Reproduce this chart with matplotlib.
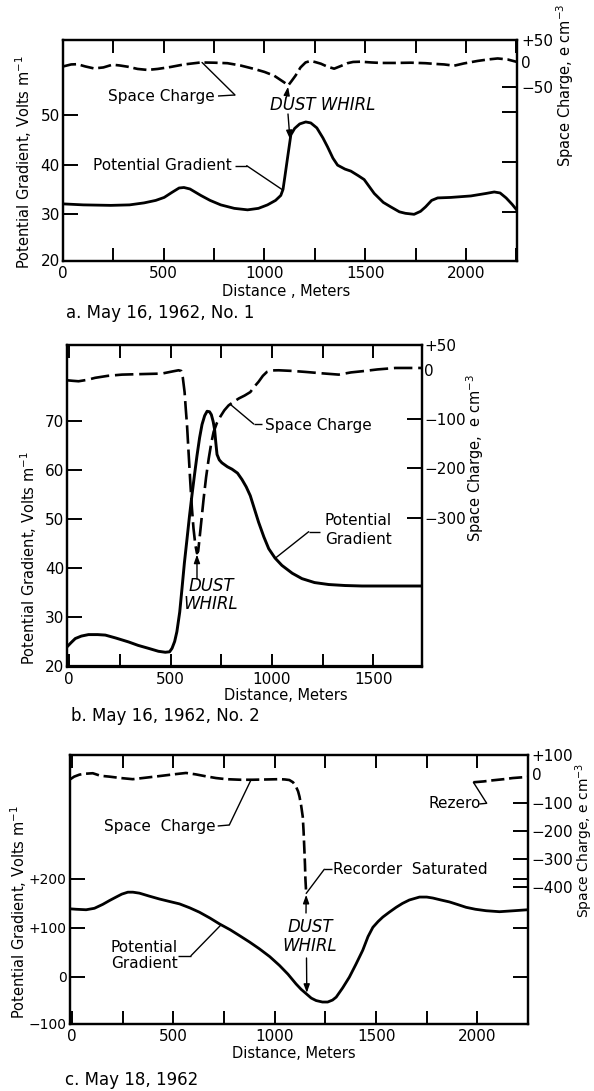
import numpy as np
import matplotlib
matplotlib.use("Agg")
import matplotlib.pyplot as plt
from matplotlib.lines import Line2D

plt.rcParams['font.family'] = ['DejaVu Sans']
plt.rcParams['mathtext.fontset'] = 'dejavusans'

W, H, DPI = 594, 1091, 100

# ---------------- data ----------------
# Panel a: May 16, 1962, No. 1
a_pg_x = [0, 100, 237, 330, 402, 460, 502, 540, 576, 600, 630, 684, 730, 783, 850, 916, 970,
          1015, 1055, 1081, 1092, 1101, 1115, 1131, 1150, 1175, 1205, 1230, 1260, 1290, 1313,
          1340, 1363, 1400, 1429, 1465, 1495, 1520, 1545, 1590, 1627, 1670, 1700, 1743, 1775,
          1800, 1830, 1860, 1925, 2025, 2100, 2141, 2170, 2200, 2230, 2254]
a_pg_y = [32.1, 31.9, 31.8, 31.9, 32.3, 32.8, 33.4, 34.4, 35.3, 35.4, 35.1, 33.8, 32.8, 31.9,
          31.2, 30.9, 31.2, 31.9, 32.8, 33.8, 35.0, 37.5, 41.5, 46.0, 47.3, 48.2, 48.6, 48.4,
          47.4, 45.4, 43.6, 41.3, 39.9, 39.1, 38.7, 37.8, 37.0, 35.6, 34.2, 32.4, 31.5, 30.5,
          30.2, 30.0, 30.6, 31.5, 32.8, 33.3, 33.4, 33.7, 34.2, 34.5, 34.3, 33.3, 32.0, 30.8]
a_sc_x = [0, 40, 71, 110, 154, 200, 245, 280, 320, 370, 419, 470, 535, 600, 684, 750, 816, 880,
          949, 1000, 1048, 1098, 1118, 1135, 1154, 1179, 1204, 1228, 1250, 1280, 1310, 1346,
          1380, 1412, 1440, 1478, 1530, 1578, 1650, 1727, 1800, 1850, 1892, 1942, 1990, 2058,
          2110, 2158, 2207, 2254]
a_sc_y = [-9, -5, -4.5, -9, -13, -11, -5.5, -7, -9.5, -14, -16, -14, -10, -5, -1, -1.5, -2.5,
          -7, -14, -20, -27.5, -41, -47, -38, -27.5, -11, -1, 2, 0, -3.5, -9, -13.5, -8, -2.5,
          0, 0.5, -1, -2, -2, -1.5, -2.5, -4, -5, -7.5, -3, 2, 5, 7, 5, 0]

# Panel b: May 16, 1962, No. 2
b_pg_x = [-11, 10, 30, 60, 95, 140, 178, 230, 293, 340, 391, 440, 474, 495, 507, 520, 531, 545,
          556, 568, 581, 593, 605, 618, 630, 643, 655, 668, 680, 692, 701, 710, 717, 723, 729,
          740, 753, 780, 803, 830, 852, 873, 893, 915, 934, 960, 984, 1015, 1049, 1100, 1148,
          1210, 1280, 1360, 1444, 1600, 1740]
b_pg_y = [23.9, 24.8, 25.6, 26.1, 26.4, 26.4, 26.3, 25.7, 24.9, 24.2, 23.6, 23.0, 22.8, 22.9,
          23.6, 25.0, 27.0, 31.0, 35.7, 41.0, 45.9, 50.5, 54.7, 59.0, 62.8, 66.5, 69.2, 71.0,
          71.9, 71.8, 71.2, 69.8, 68.2, 65.5, 63.1, 62.0, 61.4, 60.6, 60.1, 59.3, 58.0, 56.5,
          54.7, 51.8, 49.3, 46.3, 43.9, 42.0, 40.5, 38.9, 37.8, 37.0, 36.6, 36.4, 36.3, 36.3,
          36.3]
b_sc_x = [-11, 15, 46, 90, 128, 190, 260, 350, 457, 510, 539, 552, 560, 569, 575, 581, 589,
          597, 605, 613, 622, 630, 636, 641, 652, 663, 675, 688, 700, 712, 728, 745, 765, 786,
          810, 836, 865, 893, 915, 934, 955, 975, 1000, 1033, 1100, 1164, 1250, 1329, 1390,
          1444, 1520, 1609, 1680, 1740]
b_sc_y = [-21, -22, -23, -20, -16, -12, -9.5, -8.5, -7.4, -3, -0.7, -2, -15, -45, -80, -112,
          -170, -227, -280, -322, -355, -372, -368, -349, -305, -261, -218, -180, -150, -126,
          -108, -95, -82, -72, -65, -58, -52, -45, -33, -24, -12, -4, -1, -0.7, -2, -4, -7,
          -9.5, -5, -2.7, 1, 4, 4, 4]

# Panel c: May 18, 1962
c_pg_x = [-13, 20, 69, 110, 151, 185, 217, 245, 275, 300, 332, 380, 431, 480, 530, 580, 628,
          680, 727, 780, 826, 875, 924, 975, 1023, 1065, 1105, 1130, 1155, 1180, 1204, 1235,
          1261, 1285, 1303, 1335, 1368, 1400, 1434, 1460, 1484, 1510, 1533, 1565, 1599, 1630,
          1664, 1714, 1750, 1780, 1820, 1862, 1900, 1944, 1990, 2043, 2109, 2180, 2248]
c_pg_y = [139, 138, 137, 140, 148, 156, 163, 169, 173, 173, 171, 165, 159, 154, 149, 141, 132,
          120, 108, 96, 84, 71, 57, 41, 23, 5, -15, -26, -35, -44, -49, -52, -52, -48, -42,
          -23, -1, 25, 54, 82, 101, 113, 122, 132, 142, 150, 157, 163, 163, 161, 157, 153, 148,
          142, 138, 135, 133, 135, 137]
c_sc_x = [-13, 10, 36, 60, 102, 140, 184, 240, 299, 360, 431, 500, 562, 610, 661, 710, 760,
          830, 891, 960, 1023, 1050, 1072, 1090, 1105, 1115, 1122, 1130, 1138, 1142, 1146,
          1149, 1151, 1155]
c_sc_y = [-19, -8, -1, 2, 4, -5, -8, -13, -17, -12, -6, 0, 5, 0, -7, -13, -17, -19, -19, -18,
          -17, -18, -20, -28, -44, -60, -79, -110, -150, -200, -267, -320, -368, -421]
c_rezero_x = [1980, 2030, 2076, 2130, 2174, 2210, 2248]
c_rezero_y = [-28, -25, -21, -17, -13, -11, -9]

# tick labels
a_x_ticks = list(range(0, 2251, 250))
b_x_ticks = list(range(0, 1501, 250))
c_x_ticks = list(range(0, 2001, 250))

# ---------------- figure ----------------
fig = plt.figure(figsize=(W / DPI, H / DPI), dpi=DPI)
fig.patch.set_facecolor('white')


def fx(x):
    return x / W


def fy(y):
    return 1 - y / H


TICK_FS = 11
LAB_FS = 10.5
ANN_FS = 11
DW_FS = 12


def panel(rect, xlim, pg_lim, sc_lim, xticks, pg_ticks, pg_labels, pg_corner,
          sc_ticks, sc_labels, sc_corner, sc_pad=3, pg_right=False, pg_fs=TICK_FS):
    left, top, right, bottom = rect
    ax = fig.add_axes([fx(left), fy(bottom), (right - left) / W, (bottom - top) / H])
    ax2 = ax.twinx()
    ax.set_xlim(*xlim)
    ax.set_ylim(*pg_lim)
    ax2.set_ylim(*sc_lim)
    for a in (ax, ax2):
        a.patch.set_visible(False)
        for s in a.spines.values():
            s.set_linewidth(1.6)
    ax.set_xticks(xticks)
    ax.set_xticklabels([str(v) if v % 500 == 0 else '' for v in xticks])
    ax.tick_params(axis='x', direction='in', top=True, bottom=True, length=9.5, width=1.4,
                   labelsize=TICK_FS, pad=4)
    ax.set_yticks(pg_ticks)
    ax.set_yticklabels(pg_labels)
    ax.tick_params(axis='y', direction='in', length=11, width=1.4, labelsize=pg_fs, pad=2,
                   right=pg_right)
    if pg_corner:
        ax.set_yticks([v for v, _ in pg_corner], minor=True)
        ax.set_yticklabels([t for _, t in pg_corner], minor=True)
        ax.tick_params(axis='y', which='minor', length=0, labelsize=pg_fs, pad=2)
    ax2.set_yticks(sc_ticks)
    ax2.set_yticklabels(sc_labels)
    ax2.tick_params(axis='y', direction='in', length=11, width=1.4, labelsize=TICK_FS,
                    pad=sc_pad)
    ax2.set_yticks([v for v, _ in sc_corner], minor=True)
    ax2.set_yticklabels([t for _, t in sc_corner], minor=True)
    ax2.tick_params(axis='y', which='minor', length=0, labelsize=TICK_FS, pad=sc_pad)
    return ax, ax2


def line_px(x0, y0, x1, y1, lw=1.0):
    fig.add_artist(Line2D([fx(x0), fx(x1)], [fy(y0), fy(y1)], transform=fig.transFigure,
                          color='k', lw=lw, solid_capstyle='butt'))


def leader(ax_t, stub, xt, xs, ys, lw=1.0):
    (x0, y0), (x1, y1) = stub
    line_px(x0, y0, x1, y1, lw)
    yt = float(np.interp(xt, xs, ys))
    ax_t.annotate('', xy=(xt, yt), xycoords='data', xytext=(fx(x1), fy(y1)),
                  textcoords='figure fraction',
                  arrowprops=dict(arrowstyle='-', lw=lw, color='k', shrinkA=0, shrinkB=0))


def arrow(ax_t, start, xt, xs, ys, lw=1.0):
    yt = float(np.interp(xt, xs, ys))
    ax_t.annotate('', xy=(xt, yt), xycoords='data', xytext=(fx(start[0]), fy(start[1])),
                  textcoords='figure fraction',
                  arrowprops=dict(arrowstyle='-|>,head_length=0.5,head_width=0.18', lw=lw,
                                  color='k', shrinkA=0, shrinkB=1))


def text_px(x, y, s, **kw):
    fig.text(fx(x), fy(y), s, **kw)


# ---------- Panel a ----------
axa, axa2 = panel((62.7, 39.5, 517.0, 260.5), (-2, 2254), (20.7, 65.2), (-398, 45),
                  a_x_ticks, [30, 40, 50], ['30', '40', '50'], [(20.7, '20')],
                  [-50, -100, -200, -300], ['\u221250', '', '', ''],
                  [(45, '+50'), (0, '0')], sc_pad=3)
axa.plot(a_pg_x, a_pg_y, color='k', lw=2.0, solid_joinstyle='round')
axa2.plot(a_sc_x, a_sc_y, color='k', lw=1.9, linestyle=(0, (5, 1.8)))

text_px(108, 97, 'Space Charge', fontsize=ANN_FS, ha='left', va='center')
leader(axa2, ((218, 96), (235, 95)), 690, a_sc_x, a_sc_y)
text_px(270, 105, 'DUST WHIRL', fontsize=DW_FS, style='italic', ha='left', va='center')
arrow(axa2, (286.5, 97), 1118, a_sc_x, a_sc_y)
arrow(axa, (288, 114), 1127, a_pg_x, a_pg_y)
text_px(93, 165, 'Potential Gradient', fontsize=ANN_FS, ha='left', va='center')
leader(axa, ((235, 165.7), (246.7, 165.7)), 1091, a_pg_x, a_pg_y)

text_px(23.5, 162, r'Potential Gradient, Volts m$^{-1}$', fontsize=LAB_FS, rotation=90,
        ha='center', va='center')
text_px(565, 85, r'Space Charge, e cm$^{-3}$', fontsize=LAB_FS, rotation=90,
        ha='center', va='center')
text_px(286, 292, 'Distance , Meters', fontsize=LAB_FS, ha='center', va='center')
text_px(66, 313, 'a. May 16, 1962, No. 1', fontsize=12, ha='left', va='center')

# ---------- Panel b ----------
axb, axb2 = panel((67, 345.5, 422, 666.5), (-11, 1740), (19.9, 85.3), (-602, 49.6),
                  b_x_ticks, [20, 30, 40, 50, 60, 70],
                  ['20', '30', '40', '50', '60', '70'], None,
                  [-100, -200, -300], ['\u2212100', '\u2212200', '\u2212300'],
                  [(49.6, '+50'), (0, '0')], sc_pad=1.5)
axb.plot(b_pg_x, b_pg_y, color='k', lw=2.1, solid_joinstyle='round')
axb2.plot(b_sc_x, b_sc_y, color='k', lw=1.9, linestyle=(0, (7, 2.2)))

text_px(265, 425, 'Space Charge', fontsize=ANN_FS, ha='left', va='center')
leader(axb2, ((262, 424), (253.7, 424)), 794, b_sc_x, b_sc_y)
text_px(325, 530, 'Potential\nGradient', fontsize=ANN_FS, ha='left', va='center',
        linespacing=1.3)
leader(axb, ((320.3, 531.7), (308.7, 531.7)), 1016, b_pg_x, b_pg_y)
text_px(211, 595, 'DUST\nWHIRL', fontsize=DW_FS, style='italic', ha='center', va='center',
        linespacing=1.0)
arrow(axb2, (197, 579), 630, b_sc_x, b_sc_y)

text_px(28.5, 558, r'Potential Gradient, Volts m$^{-1}$', fontsize=LAB_FS, rotation=90,
        ha='center', va='center')
text_px(475, 458, r'Space Charge,  e cm$^{-3}$', fontsize=LAB_FS, rotation=90,
        ha='center', va='center')
text_px(286, 696, 'Distance, Meters', fontsize=LAB_FS, ha='center', va='center')
text_px(71, 716, 'b. May 16, 1962, No. 2', fontsize=12, ha='left', va='center')

# ---------- Panel c ----------
axc, axc2 = panel((69.5, 755, 527.7, 1023.5), (-13, 2248), (-96, 454), (-881, 68.5),
                  c_x_ticks, [0, 100, 200], ['0', '+100', '+200'], [(-96, '\u2212100')],
                  [-100, -200, -300, -400],
                  ['\u2212100', '\u2212200', '\u2212300', '\u2212400'],
                  [(68.5, '+100'), (0, '0')], sc_pad=3, pg_right=True, pg_fs=10)
axc.plot(c_pg_x, c_pg_y, color='k', lw=2.0, solid_joinstyle='round')
axc2.plot(c_sc_x, c_sc_y, color='k', lw=1.9, linestyle=(0, (5, 1.8)))
axc2.plot(c_rezero_x, c_rezero_y, color='k', lw=1.9, linestyle=(0, (5, 1.8)))

text_px(104, 826, 'Space  Charge', fontsize=ANN_FS, ha='left', va='center')
leader(axc2, ((217.7, 826), (229.3, 825)), 883, c_sc_x, c_sc_y)
text_px(429, 804, 'Rezero', fontsize=ANN_FS, ha='left', va='center')
leader(axc2, ((479.3, 804), (486.7, 803.3)), 1980, c_rezero_x, c_rezero_y)
text_px(333, 869, 'Recorder  Saturated', fontsize=ANN_FS, ha='left', va='center')
leader(axc2, ((332, 869.3), (324.3, 869.3)), 1155, c_sc_x, c_sc_y)
text_px(310, 936.5, 'DUST\nWHIRL', fontsize=DW_FS, style='italic', ha='center', va='center',
        linespacing=1.05)
arrow(axc2, (306, 913), 1155, c_sc_x, c_sc_y)
arrow(axc, (306.5, 958), 1158, c_pg_x, c_pg_y)
text_px(111, 955.5, 'Potential\nGradient', fontsize=ANN_FS, ha='left', va='center',
        linespacing=1.05)
leader(axc, ((177.7, 955.7), (191, 955.7)), 735, c_pg_x, c_pg_y)

text_px(19, 912, r'Potential Gradient, Volts m$^{-1}$', fontsize=LAB_FS, rotation=90,
        ha='center', va='center')
text_px(584, 840, r'Space Charge, e cm$^{-3}$', fontsize=10, rotation=90,
        ha='center', va='center')
text_px(294, 1053, 'Distance, Meters', fontsize=LAB_FS, ha='center', va='center')
text_px(65, 1080, 'c. May 18, 1962', fontsize=12, ha='left', va='center')

fig.savefig('out.png', dpi=DPI, facecolor='white')
